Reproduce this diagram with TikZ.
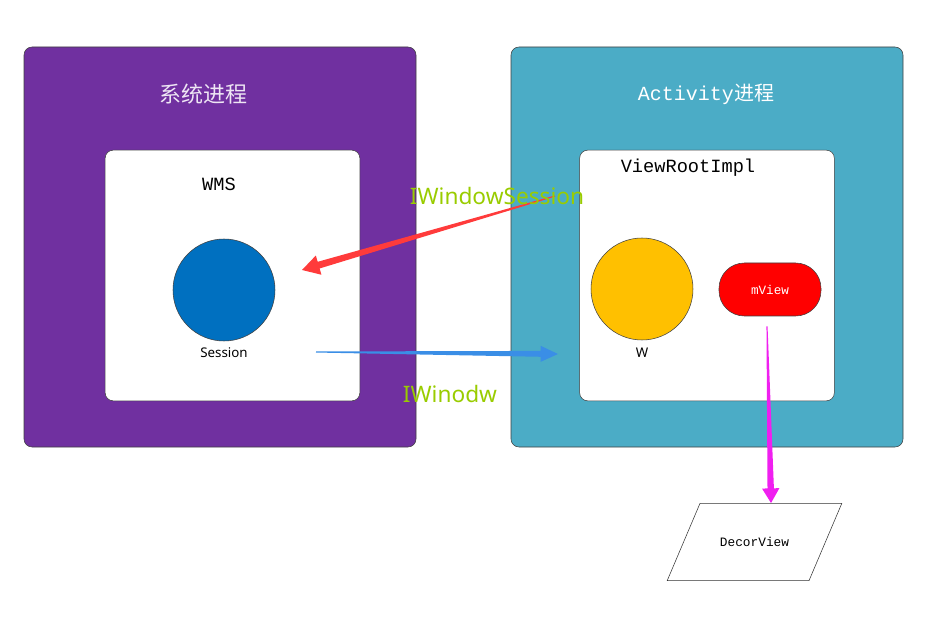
\documentclass[tikz,border=0pt]{standalone}
\usepackage{fontspec}
\setmainfont{Noto Sans}
\newfontfamily\cjk{Noto Sans CJK SC}
\newfontfamily\monof{Liberation Mono}
\usetikzlibrary{shapes,calc}

\definecolor{sysbg}{HTML}{7030A0}
\definecolor{actbg}{HTML}{4BACC6}
\definecolor{sessblue}{HTML}{0070C0}
\definecolor{wyellow}{HTML}{FFC000}
\definecolor{callred}{HTML}{FF3B3B}
\definecolor{callblue}{HTML}{3A8EE6}
\definecolor{callpink}{HTML}{F01FF0}
\definecolor{linkgreen}{RGB}{153,204,0}

\tikzset{
  procbox/.style={draw=black!75, rounded corners=6pt, minimum width=294pt, minimum height=300pt, inner sep=0pt},
  objbox/.style={draw=black!75, fill=white, rounded corners=6pt, minimum width=191pt, minimum height=188pt, inner sep=0pt},
  ball/.style={circle, draw=black!75, minimum size=76.5pt, inner sep=0pt},
  tag/.style={font=\fontsize{17}{17}\selectfont, text=linkgreen},
}

% tapered arrow: colour, from, to, shaft half width, head half width, head length
\newcommand\taper[6]{%
  \path ($(#3)!#6!(#2)$) coordinate (hb);
  \fill[#1] ($(#2)!0.4pt!90:(#3)$) -- ($(hb)!#4!90:(#3)$) -- ($(hb)!#5!90:(#3)$) -- (#3)
    -- ($(hb)!#5!-90:(#3)$) -- ($(hb)!#4!-90:(#3)$) -- ($(#2)!0.4pt!-90:(#3)$) -- cycle;}

\begin{document}
\begin{tikzpicture}[x=0.75pt,y=-0.75pt]
\useasboundingbox (0,0) rectangle (932,620);

% processes
\node[procbox, fill=sysbg] (sys) at (220,247) {};
\node[procbox, fill=actbg] (act) at (707,247) {};
\node[text=white!88!sysbg, font=\cjk\fontsize{16.5}{16.5}\selectfont] (systitle) at (203,94) {系统进程};
\node[text=white, font=\fontsize{15}{15}\selectfont] (acttitle) at (706,94) {\monof Activity\cjk 进程};

% objects
\node[objbox] (wms) at (232.5,275.5) {};
\node[objbox] (vri) at (707,275.5) {};
\node[font=\monof\fontsize{14}{14}\selectfont] (wmstitle) at (219,184) {WMS};
\node[font=\monof\fontsize{14}{14}\selectfont] (vrititle) at (688,168) {ViewRootImpl};

\node[ball, fill=sessblue] (session) at (224,290) {};
\node[font=\fontsize{10}{10}\selectfont] (sesstext) at (224,353) {Session};
\node[ball, fill=wyellow] (w) at (642,289) {};
\node[font=\fontsize{10}{10}\selectfont] (wtext) at (642,353) {W};

\node[draw=black!75, fill=red, rounded corners=19pt, minimum width=76.5pt, minimum height=39.75pt,
  text=white, font=\monof\fontsize{9.5}{9.5}\selectfont] (mview) at (770,289.5) {mView};

\node[trapezium, trapezium left angle=67, trapezium right angle=113, trapezium stretches body=true,
  draw=black!80, fill=white, minimum width=131pt, inner xsep=0pt, inner ysep=25.5pt,
  font=\monof\fontsize{9.6}{9.6}\selectfont] (decor) at (754.5,542) {DecorView};

% calls between processes
\coordinate (rs) at (555,196);
\coordinate (re) at (302,270);
\coordinate (bs) at (316,352);
\coordinate (be) at (558,354);
\coordinate (ms) at ($(mview.south)+(-3,10)$);
\taper{callred}{rs}{re}{2.6pt}{7.5pt}{13pt}
\taper{callblue}{bs}{be}{2.2pt}{6pt}{13pt}
\taper{callpink}{ms}{decor.top side}{2.4pt}{6.5pt}{11pt}

\node[tag] (iws) at (497,196) {IWindowSession};
\node[tag] (iw) at (450,394) {IWinodw};
\end{tikzpicture}
\end{document}
